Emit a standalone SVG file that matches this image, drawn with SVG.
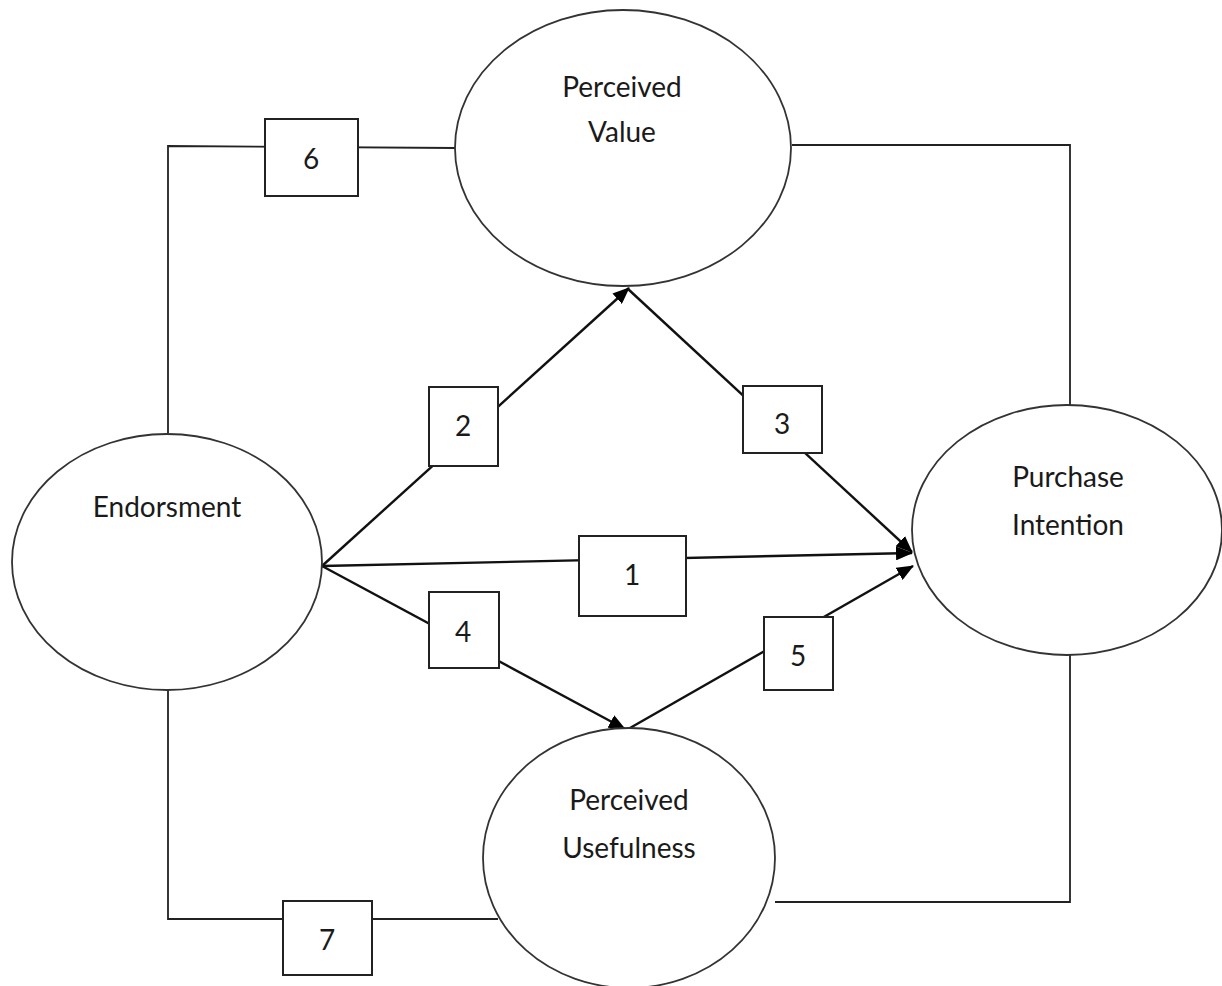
<svg xmlns="http://www.w3.org/2000/svg" width="1222" height="986" viewBox="0 0 1222 986">
<style>
.node{fill:#fff;stroke:#333;stroke-width:1.8}
.box{fill:#fff;stroke:#222;stroke-width:2}
.wire{fill:none;stroke:#222;stroke-width:1.8}
.arrow{fill:none;stroke:#111;stroke-width:2.4}
text{font-family:Lato,"Open Sans","Liberation Sans",sans-serif;font-size:28px;fill:#1a1a1a;text-anchor:middle}
</style>
<defs>
<marker id="ah" markerWidth="17" markerHeight="14" refX="16" refY="7" orient="auto" markerUnits="userSpaceOnUse" viewBox="0 0 17 14">
<path d="M0,0 L17,7 L0,14 z" fill="#000"/>
</marker>
</defs>
<rect width="1222" height="986" fill="#fff"/>
<g id="connectors">
<polyline class="wire" points="168,433 168,146 455,148"/>
<polyline class="wire" points="792,145 1070,145 1070,405"/>
<polyline class="wire" points="168,690 168,919 498,919"/>
<polyline class="wire" points="775,902 1070,902 1070,655"/>
<line class="arrow" x1="322" y1="566" x2="629" y2="288" marker-end="url(#ah)"/>
<line class="arrow" x1="628" y1="289" x2="912" y2="552" marker-end="url(#ah)"/>
<line class="arrow" x1="322" y1="566" x2="912" y2="553" marker-end="url(#ah)"/>
<line class="arrow" x1="322" y1="566" x2="625" y2="729" marker-end="url(#ah)"/>
<line class="arrow" x1="630" y1="728" x2="913" y2="566" marker-end="url(#ah)"/>
</g>
<g id="endorsment"><ellipse class="node" cx="167" cy="562" rx="155" ry="128"/><text x="167" y="517">Endorsment</text></g>
<g id="perceived-value"><ellipse class="node" cx="623" cy="148" rx="168" ry="138"/><text x="622" y="97">Perceived</text><text x="622" y="142">Value</text></g>
<g id="purchase-intention"><ellipse class="node" cx="1067" cy="530" rx="155" ry="125"/><text x="1068" y="487">Purchase</text><text x="1068" y="535">Intention</text></g>
<g id="perceived-usefulness"><ellipse class="node" cx="629" cy="858" rx="146" ry="130"/><text x="629" y="810">Perceived</text><text x="629" y="858">Usefulness</text></g>
<g id="box6"><rect class="box" x="265" y="119" width="93" height="77"/><text x="311" y="169">6</text></g>
<g id="box2"><rect class="box" x="429" y="387" width="69" height="79"/><text x="463" y="436">2</text></g>
<g id="box3"><rect class="box" x="743" y="386" width="79" height="67"/><text x="782" y="434">3</text></g>
<g id="box1"><rect class="box" x="579" y="536" width="107" height="80"/><text x="632" y="585">1</text></g>
<g id="box4"><rect class="box" x="429" y="592" width="70" height="76"/><text x="463" y="642">4</text></g>
<g id="box5"><rect class="box" x="764" y="617" width="69" height="73"/><text x="798" y="666">5</text></g>
<g id="box7"><rect class="box" x="283" y="901" width="89" height="74"/><text x="327" y="950">7</text></g>
</svg>
